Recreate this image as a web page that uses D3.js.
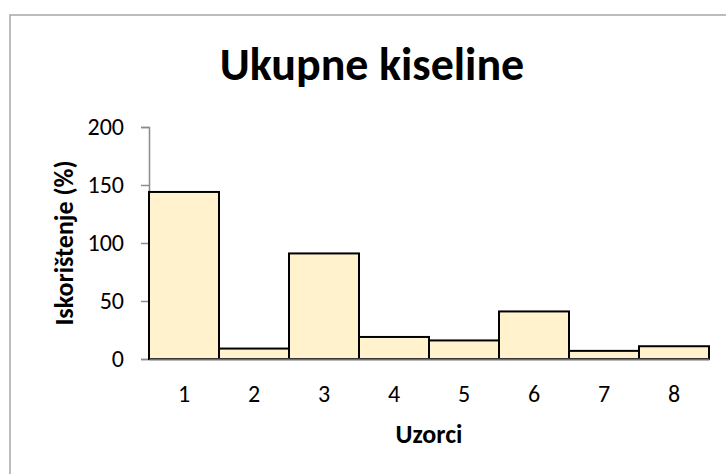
<!DOCTYPE html>
<html>
<head>
<meta charset="utf-8">
<script src="https://cdn.jsdelivr.net/npm/d3@7"></script>
<style>
  body { margin: 0; background: #fff; }
  svg text { font-family: Carlito, Calibri, Lato, sans-serif; fill: #000; }
</style>
</head>
<body>
<div id="chart"></div>
<script>
// values
const samples = ["1", "2", "3", "4", "5", "6", "7", "8"];
const recovery = [144, 9, 91, 19, 16, 41, 7, 11];
const yTicks = [0, 50, 100, 150, 200];

const width = 726;
const height = 474;

const svg = d3
  .select("#chart")
  .append("svg")
  .attr("width", width)
  .attr("height", height);

// chart frame, runs off the right and bottom edge
svg
  .append("rect")
  .attr("x", 10)
  .attr("y", 15)
  .attr("width", 740)
  .attr("height", 480)
  .attr("fill", "#fff")
  .attr("stroke", "#a6a6a6")
  .attr("stroke-width", 1.5);

const x = d3.scaleBand().domain(samples).range([149, 709]).padding(0);
const y = d3.scaleLinear().domain([0, 200]).range([359, 127]);

svg
  .append("text")
  .attr("x", 372)
  .attr("y", 80)
  .attr("text-anchor", "middle")
  .attr("font-weight", "bold")
  .attr("font-size", 46)
  .text("Ukupne kiseline");

// y axis
const yAxis = svg
  .append("g")
  .attr("transform", `translate(${x.range()[0]},0)`)
  .call(d3.axisLeft(y).tickValues(yTicks).tickSize(8).tickPadding(17));
yAxis.select(".domain").attr("stroke", "#8c8c8c").attr("stroke-width", 1.5);
yAxis.selectAll(".tick line").attr("stroke", "#8c8c8c").attr("stroke-width", 1.5);
yAxis
  .selectAll(".tick text")
  .attr("font-size", 24)
  .attr("font-family", "Carlito, Calibri, Lato, sans-serif");

// bars
svg
  .selectAll("rect.bar")
  .data(samples)
  .enter()
  .append("rect")
  .attr("class", "bar")
  .attr("x", (d) => x(d))
  .attr("y", (d, i) => y(recovery[i]))
  .attr("width", x.bandwidth())
  .attr("height", (d, i) => y(0) - y(recovery[i]))
  .attr("fill", "#fff2cc")
  .attr("stroke", "#000")
  .attr("stroke-width", 2);

// x axis
const xAxis = svg
  .append("g")
  .attr("transform", `translate(0,${y(0)})`)
  .call(d3.axisBottom(x).tickSize(0).tickPadding(26));
xAxis.select(".domain").attr("stroke", "#6e6e6e").attr("stroke-width", 2);
xAxis
  .selectAll(".tick text")
  .attr("font-size", 24)
  .attr("font-family", "Carlito, Calibri, Lato, sans-serif");

svg
  .append("text")
  .attr("x", 429)
  .attr("y", 443)
  .attr("text-anchor", "middle")
  .attr("font-weight", "bold")
  .attr("font-size", 26)
  .text("Uzorci");

svg
  .append("text")
  .attr("transform", "translate(73,243) rotate(-90)")
  .attr("text-anchor", "middle")
  .attr("font-weight", "bold")
  .attr("font-size", 26)
  .text("Iskorištenje (%)");
</script>
</body>
</html>
